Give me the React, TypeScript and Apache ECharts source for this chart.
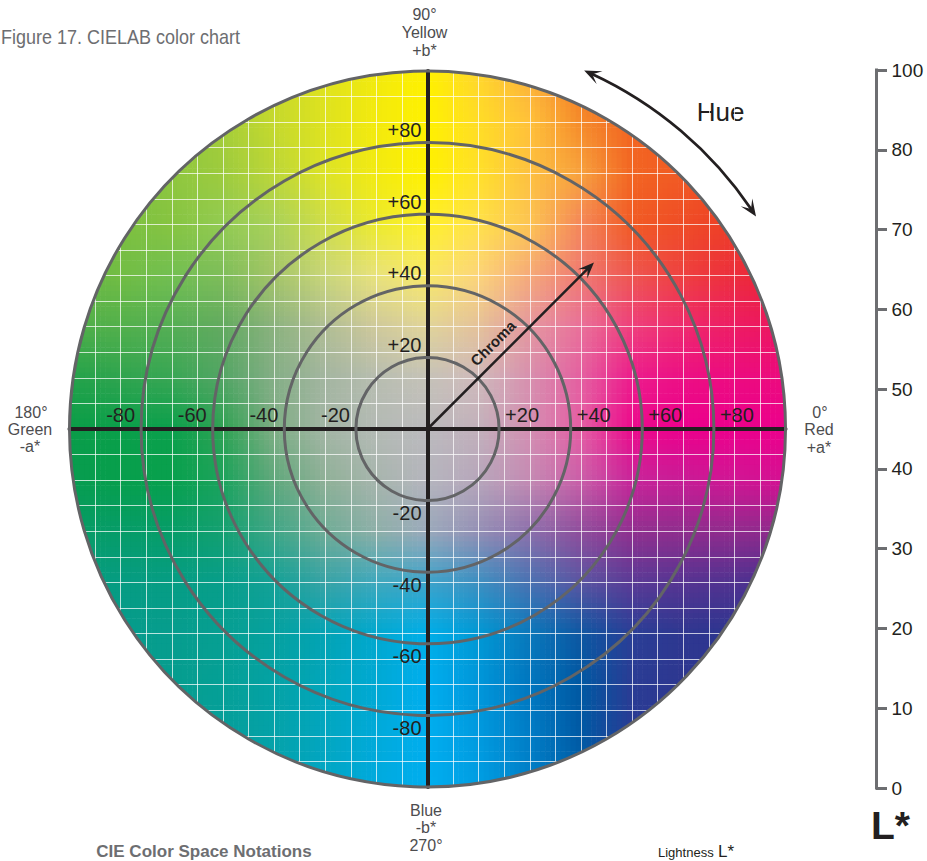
import React, { useEffect, useRef } from "react";
import * as echarts from "echarts";

// Axis ranges and marks (CIELAB units)
const axisRange = [-100, 100];
const gridStep = 100 / 14;
const chromaRings = [20, 40, 60, 80, 100];
const aTicksNegative = [-80, -60, -40, -20];
const aTicksPositive = [20, 40, 60, 80];
const bTicksPositive = [20, 40, 60, 80];
const bTicksNegative = [-20, -40, -60, -80];
const chromaArrow = [[0, 0, 46.5, 46.5]];
const hueArc = [[32.9, 66.4, 109.3]];
const lightnessLabels = ["0", "10", "20", "30", "40", "50", "60", "70", "80", "100"];

// Colour at every second white grid line (top row = b* +100, left = a* -100)
const fieldColours = [
  ["#6fb83f", "#7ab93c", "#8dc63f", "#a8cf38", "#c8d92a", "#dfe31e", "#f2ea0d", "#fff100", "#ffd62e", "#fbb03b", "#f47a24", "#f26522", "#f15a22", "#ef4423", "#ed3224"],
  ["#70b93f", "#7bba3d", "#8cc63f", "#a6ce39", "#c5d92d", "#dee21f", "#f3ea0d", "#fff100", "#ffdc26", "#ffc13a", "#f58a2a", "#f26522", "#f15a22", "#ef4823", "#ed3724"],
  ["#74bc40", "#7cbe40", "#8fc73f", "#9dcb3d", "#bcd638", "#dde326", "#f2ea12", "#fff100", "#ffe02a", "#fdc040", "#f7a13d", "#f26522", "#f15a24", "#ef4a23", "#ee3e25"],
  ["#74bd41", "#7cc040", "#86c441", "#92cb53", "#a9d15a", "#cfdd4a", "#ecea2c", "#fff02a", "#ffe04a", "#fcc453", "#f4865a", "#f15a24", "#ef4c26", "#ed3d26", "#ec3028"],
  ["#6ab745", "#72bd44", "#72bf52", "#7ebd5a", "#a4c468", "#c9d67a", "#e8e27c", "#f8e868", "#fcd47a", "#f5a97a", "#ef7a72", "#ee5550", "#ee4040", "#ec2d3c", "#eb2234"],
  ["#4fae49", "#52b04c", "#55ae55", "#62aa60", "#8bb27f", "#b0bd94", "#cfc99b", "#e0d49a", "#e4c19a", "#e497a0", "#e9709a", "#ee3f7c", "#ee2a6e", "#ed1c64", "#ec145e"],
  ["#22a24a", "#2fa44f", "#38a654", "#53a565", "#84ae86", "#a3b5a0", "#b7bdb0", "#c5c2b8", "#cfb9bb", "#d78fae", "#e45fa0", "#ec1c8c", "#ec0f84", "#ec0b80", "#ec0a7e"],
  ["#0a9d48", "#0a9f4a", "#0ba04c", "#2fa253", "#7eae84", "#a3b5a5", "#b4bab5", "#bbbabd", "#c2b0bb", "#d48fb2", "#e55ea4", "#ec0a8c", "#ec008c", "#ec008c", "#ec008c"],
  ["#079c50", "#079f4c", "#08a04d", "#1ca35c", "#60a87c", "#8fb097", "#a7b5ad", "#b5b5bd", "#b7a6bb", "#c48ab3", "#ca5ea8", "#c8259a", "#c81c96", "#d01694", "#d41092"],
  ["#069c66", "#069c68", "#069d68", "#14a071", "#3fa686", "#6fac96", "#8dafa8", "#9aa9bb", "#948fb5", "#8c70ab", "#8f4d9c", "#90308f", "#8f2d8d", "#902b8d", "#8f2a8c"],
  ["#069c80", "#069c82", "#069d84", "#079e8a", "#14a197", "#37a3a6", "#3ea8bd", "#3ea4ca", "#3d8fc1", "#4a72b2", "#5a55a2", "#5a3b96", "#563492", "#503290", "#45308f"],
  ["#069c8a", "#069c8c", "#069d8e", "#069f92", "#05a19f", "#03a3b4", "#01a8cf", "#00aee8", "#0098d4", "#0a78bb", "#0e57a2", "#2a3e96", "#2e3790", "#2d358f", "#2d358f"],
  ["#069c8c", "#069c8e", "#069d8e", "#05a096", "#04a2a5", "#02a6bb", "#00a9d4", "#00aeef", "#0096da", "#0076bf", "#0058a2", "#2a3c94", "#2e3790", "#2d358f", "#2d358f"],
  ["#069c92", "#069d96", "#069e98", "#069e9b", "#04a2a9", "#02a6c0", "#00aada", "#00aeef", "#009adf", "#007dc6", "#0059a4", "#293b94", "#2e3790", "#2d358f", "#2d358f"],
  ["#069c98", "#069d9a", "#069e9c", "#05a0a0", "#04a2ac", "#02a6c4", "#00aade", "#00aeef", "#009ee3", "#0080c8", "#0060a8", "#293b94", "#2e3790", "#2d358f", "#2d358f"],
];

const INK = "#231f20";
const RING = "#636466";
const SOFT = "#4d4d4f";
const FONT = "'Liberation Sans', Arial, sans-serif";

const hexToRgb = (h: string) => [parseInt(h.slice(1, 3), 16), parseInt(h.slice(3, 5), 16), parseInt(h.slice(5, 7), 16)];

const fieldTiles: number[][] = [];
for (let r = 0; r < fieldColours.length - 1; r++) {
  for (let c = 0; c < fieldColours[r].length - 1; c++) {
    fieldTiles.push([-100 + c * 2 * gridStep, 100 - r * 2 * gridStep, r, c]);
  }
}

function barbedHead(tip: number[], ux: number, uy: number, len: number, wing: number, notch: number) {
  const px = -uy;
  const py = ux;
  return [
    tip,
    [tip[0] - ux * len + px * wing, tip[1] - uy * len + py * wing],
    [tip[0] - ux * notch, tip[1] - uy * notch],
    [tip[0] - ux * len - px * wing, tip[1] - uy * len - py * wing],
  ];
}

function tickLabelSeries(values: number[], axis: "a" | "b", position: string, offset: number[]) {
  return {
    type: "scatter",
    xAxisIndex: 0,
    yAxisIndex: 0,
    z: 6,
    silent: true,
    symbolSize: 0,
    clip: false,
    itemStyle: { opacity: 1 },
    data: values.map((v) => (axis === "a" ? [v, 0] : [0, v])),
    label: {
      show: true,
      position,
      distance: 6,
      offset,
      color: INK,
      opacity: 1,
      fontFamily: FONT,
      fontSize: 20,
      formatter: (p: any) => {
        const v = axis === "a" ? p.value[0] : p.value[1];
        return (v > 0 ? "+" : "") + v;
      },
    },
  };
}

function text(x: number, y: number, t: string, fontSize: number, fill: string, extra: any = {}, el: any = {}) {
  return {
    type: "text",
    x,
    y,
    silent: true,
    ...el,
    style: {
      text: t,
      fontSize,
      fontFamily: FONT,
      fill,
      align: "center",
      verticalAlign: "middle",
      ...extra,
    },
  };
}

export default function App() {
  const ref = useRef<HTMLDivElement | null>(null);

  useEffect(() => {
    document.body.style.margin = "0";
    const chart = echarts.init(ref.current!, undefined, { renderer: "svg" });
    const SUB = 10;

    chart.setOption({
      animation: false,
      backgroundColor: "#ffffff",
      grid: [
        { left: 69.5, top: 71, width: 716, height: 716 },
        { left: 875, top: 70, width: 1, height: 718 },
      ],
      xAxis: [
        {
          type: "value",
          gridIndex: 0,
          min: axisRange[0],
          max: axisRange[1],
          interval: gridStep,
          z: 2,
          axisLabel: { show: false },
          axisTick: { show: false },
          axisLine: { show: true, onZero: true, lineStyle: { color: INK, width: 4 } },
          splitLine: { show: true, lineStyle: { color: "rgba(255,255,255,0.72)", width: 1 } },
        },
        { type: "value", gridIndex: 1, show: false, min: 0, max: 1 },
      ],
      yAxis: [
        {
          type: "value",
          gridIndex: 0,
          min: axisRange[0],
          max: axisRange[1],
          interval: gridStep,
          z: 2,
          axisLabel: { show: false },
          axisTick: { show: false },
          axisLine: { show: true, onZero: true, lineStyle: { color: INK, width: 4 } },
          splitLine: { show: true, lineStyle: { color: "rgba(255,255,255,0.72)", width: 1 } },
        },
        {
          type: "category",
          gridIndex: 1,
          position: "right",
          data: lightnessLabels,
          boundaryGap: false,
          axisLine: { show: true, onZero: false, lineStyle: { color: "#6d6e71", width: 3, cap: "square" } },
          axisTick: { show: true, alignWithLabel: true, length: 11, lineStyle: { color: "#6d6e71", width: 3 } },
          axisLabel: { show: true, interval: 0, margin: 15.5, color: INK, fontFamily: FONT, fontSize: 19 },
          splitLine: { show: false },
        },
      ],
      series: [
        {
          // Colour field, shaded tile by tile from the four colours at its corners
          type: "custom",
          xAxisIndex: 0,
          yAxisIndex: 0,
          z: 1,
          silent: true,
          clip: false,
          data: fieldTiles,
          renderItem: (_: any, api: any) => {
            const a0 = api.value(0);
            const b0 = api.value(1);
            const r = api.value(2);
            const c = api.value(3);
            const tl = hexToRgb(fieldColours[r][c]);
            const tr = hexToRgb(fieldColours[r][c + 1]);
            const bl = hexToRgb(fieldColours[r + 1][c]);
            const br = hexToRgb(fieldColours[r + 1][c + 1]);
            const p0 = api.coord([a0, b0]);
            const p1 = api.coord([a0 + 2 * gridStep, b0 - 2 * gridStep]);
            const centre = api.coord([0, 0]);
            const rad = api.coord([100, 0])[0] - centre[0];
            const w = (p1[0] - p0[0]) / SUB;
            const h = (p1[1] - p0[1]) / SUB;
            const children: any[] = [];
            for (let j = 0; j < SUB; j++) {
              for (let i = 0; i < SUB; i++) {
                const x = p0[0] + i * w;
                const y = p0[1] + j * h;
                const ndx = x < centre[0] && x + w > centre[0] ? 0 : Math.min(Math.abs(x - centre[0]), Math.abs(x + w - centre[0]));
                const ndy = y < centre[1] && y + h > centre[1] ? 0 : Math.min(Math.abs(y - centre[1]), Math.abs(y + h - centre[1]));
                if (Math.hypot(ndx, ndy) > rad) continue;
                const u = (i + 0.5) / SUB;
                const v = (j + 0.5) / SUB;
                const col = [0, 1, 2].map((k) =>
                  Math.round((1 - v) * ((1 - u) * tl[k] + u * tr[k]) + v * ((1 - u) * bl[k] + u * br[k]))
                );
                children.push({
                  type: "rect",
                  shape: { x, y, width: w + 0.6, height: h + 0.6 },
                  style: { fill: `rgb(${col[0]},${col[1]},${col[2]})` },
                });
              }
            }
            if (!children.length) return null;
            return {
              type: "group",
              clipPath: { type: "circle", shape: { cx: centre[0], cy: centre[1], r: rad } },
              children,
            };
          },
        },
        {
          // Chroma rings
          type: "custom",
          xAxisIndex: 0,
          yAxisIndex: 0,
          z: 4,
          silent: true,
          clip: false,
          data: chromaRings.map((v) => [v, 0]),
          renderItem: (_: any, api: any) => {
            const centre = api.coord([0, 0]);
            const edge = api.coord([api.value(0), 0]);
            return {
              type: "circle",
              shape: { cx: centre[0], cy: centre[1], r: edge[0] - centre[0] },
              style: { fill: "none", stroke: RING, lineWidth: 3 },
            };
          },
        },
        {
          // Chroma arrow with its label
          type: "custom",
          xAxisIndex: 0,
          yAxisIndex: 0,
          z: 5,
          silent: true,
          clip: false,
          data: chromaArrow,
          renderItem: (_: any, api: any) => {
            const s = api.coord([api.value(0), api.value(1)]);
            const e = api.coord([api.value(2), api.value(3)]);
            const len = Math.hypot(e[0] - s[0], e[1] - s[1]);
            const ux = (e[0] - s[0]) / len;
            const uy = (e[1] - s[1]) / len;
            return {
              type: "group",
              children: [
                {
                  type: "line",
                  shape: { x1: s[0], y1: s[1], x2: e[0] - ux * 8, y2: e[1] - uy * 8 },
                  style: { stroke: INK, lineWidth: 2.5 },
                },
                {
                  type: "polygon",
                  shape: { points: barbedHead(e, ux, uy, 16, 6.5, 9) },
                  style: { fill: INK },
                },
                {
                  type: "text",
                  x: s[0] + 65.5,
                  y: s[1] - 86,
                  rotation: Math.PI / 4,
                  style: {
                    text: "Chroma",
                    fontFamily: FONT,
                    fontWeight: "bold",
                    fontSize: 15,
                    fill: INK,
                    align: "center",
                    verticalAlign: "middle",
                  },
                },
              ],
            };
          },
        },
        {
          // Hue arrow
          type: "custom",
          xAxisIndex: 0,
          yAxisIndex: 0,
          z: 5,
          silent: true,
          clip: false,
          data: hueArc,
          renderItem: (_: any, api: any) => {
            const from = (api.value(0) * Math.PI) / 180;
            const to = (api.value(1) * Math.PI) / 180;
            const centre = api.coord([0, 0]);
            const rad = api.coord([api.value(2), 0])[0] - centre[0];
            const tipLow = [centre[0] + rad * Math.cos(from), centre[1] - rad * Math.sin(from)];
            const tipHigh = [centre[0] + rad * Math.cos(to), centre[1] - rad * Math.sin(to)];
            const trim = 8 / rad;
            return {
              type: "group",
              children: [
                {
                  type: "arc",
                  shape: { cx: centre[0], cy: centre[1], r: rad, startAngle: -(to - trim), endAngle: -(from + trim), clockwise: true },
                  style: { fill: "none", stroke: INK, lineWidth: 2.8 },
                },
                {
                  type: "polygon",
                  shape: { points: barbedHead(tipLow, Math.sin(from + trim), Math.cos(from + trim), 17, 7, 9) },
                  style: { fill: INK },
                },
                {
                  type: "polygon",
                  shape: { points: barbedHead(tipHigh, -Math.sin(to - trim), -Math.cos(to - trim), 17, 7, 9) },
                  style: { fill: INK },
                },
              ],
            };
          },
        },
        tickLabelSeries(aTicksNegative, "a", "left", [0, -14]),
        tickLabelSeries(aTicksPositive, "a", "right", [0, -14]),
        tickLabelSeries(bTicksPositive, "b", "left", [0, -12.5]),
        tickLabelSeries(bTicksNegative, "b", "left", [0, 12.5]),
      ],
      graphic: [
        text(1, 36, "Figure 17. CIELAB color chart", 21, "#6d6e71", { align: "left" }, { scaleX: 0.857 }),
        text(424.5, 14, "90°", 16, SOFT),
        text(424.5, 32, "Yellow", 16, SOFT),
        text(424.5, 50, "+b*", 16, SOFT),
        text(31, 412, "180°", 16, SOFT),
        text(30, 429, "Green", 16, SOFT),
        text(30, 446, "-a*", 16, SOFT),
        text(820, 412, "0°", 16, SOFT),
        text(819, 429, "Red", 16, SOFT),
        text(819, 447, "+a*", 16, SOFT),
        text(426, 810, "Blue", 16, SOFT),
        text(426, 827, "-b*", 16, SOFT),
        text(426, 845, "270°", 16, SOFT),
        text(720.5, 112, "Hue", 26, INK),
        text(204, 851, "CIE Color Space Notations", 17, "#6d6e71", { fontWeight: "bold" }),
        text(658, 852, "Lightness", 13, INK, { align: "left" }),
        text(718, 851, "L*", 17, INK, { align: "left" }),
        text(871, 825, "L*", 39, INK, { align: "left", fontWeight: "bold" }),
      ],
    });

    return () => chart.dispose();
  }, []);

  return <div ref={ref} style={{ width: 927, height: 861, overflow: "hidden" }} />;
}
